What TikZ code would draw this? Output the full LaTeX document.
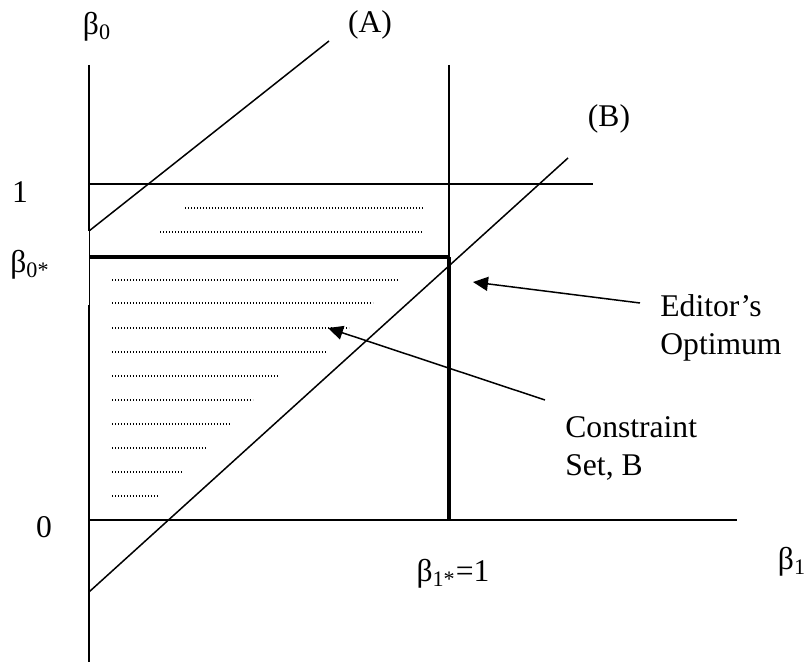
\documentclass[tikz,border=0pt]{standalone}
\usepackage{fontspec}
\setmainfont{Liberation Serif}
\usetikzlibrary{arrows.meta, positioning}

\begin{document}
\begin{tikzpicture}[x=0.5pt, y=-0.5pt,
    font=\fontsize{15.8}{19}\selectfont,
    >={Triangle[length=7.5pt,width=7pt]},
    axisline/.style={line width=1pt},
    thinline/.style={line width=0.75pt},
    boldline/.style={line width=2pt},
    dotrow/.style={line width=0.6pt, dash pattern=on 0.6pt off 0.9pt},
    lbl/.style={inner sep=0pt}]
  \useasboundingbox (0,0) rectangle (811,663);

  % Axes
  \coordinate (ytop) at (89,65);
  \coordinate (ybot) at (89,662);
  \coordinate (O)    at (89,520);
  \coordinate (xend) at (737,520);
  \draw[axisline] (ytop) -- (89,231);
  \draw[thinline, line width=0.5pt] (89,231) -- (89,305);
  \draw[axisline] (89,305) -- (ybot);
  \draw[thinline] (O) -- (xend);

  % Level 1 and optimum lines
  \coordinate (one) at (89,184);
  \coordinate (oneend) at (593,184);
  \draw[thinline] (one) -- (oneend);
  \coordinate (bstar) at (89,257);
  \coordinate (opt) at (449,257);
  \coordinate (vtop) at (449,65);
  \coordinate (vbot) at (449,520);
  \draw[boldline] (bstar) -- (opt);
  \draw[thinline, line width=1pt] (vtop) -- (opt);
  \draw[boldline] (opt) -- (vbot);

  % Lines (A) and (B)
  \coordinate (a0) at (89,231);
  \coordinate (a1) at (329,41);
  \coordinate (b0) at (89,592);
  \coordinate (b1) at (568,158);
  \draw[thinline] (a0) -- (a1);
  \draw[thinline] (b0) -- (b1);

  % Dotted rows
  \foreach \y/\xs/\xe in {208/185/423, 232/160/423} {
    \draw[dotrow] (\xs,\y) -- (\xe,\y);
  }
  \foreach \y/\xe in {280/398, 303/373, 328/349, 352/327, 376/278,
                      400/253, 424/230, 448/206, 472/182, 496/158} {
    \draw[dotrow] (112,\y) -- (\xe,\y);
  }

  % Labels
  \node[lbl] (b0lbl) at (97,27) {β\textsubscript{0}};
  \node[lbl] (albl) at (370,25) {(A)};
  \node[lbl] (blbl) at (609,119) {(B)};
  \node[lbl] (onelbl) at (20,192) {1};
  \node[lbl] (bstarlbl) at (30,265) {β\textsubscript{0*}};
  \node[lbl] (zerolbl) at (44,527) {0};
  \node[lbl] (b1starlbl) at (453,574) {β\textsubscript{1*}=1};
  \node[lbl] (b1lbl) at (792,562) {β\textsubscript{1}};
  \node[lbl, align=left, anchor=north west] (edlbl) at (660,294) {Editor’s\\Optimum};
  \node[lbl, align=left, anchor=north west] (cslbl) at (565,416) {Constraint\\Set, B};

  % Arrows
  \coordinate (edtail) at (640,303);
  \coordinate (edtip) at (473,282);
  \coordinate (cstail) at (545,400);
  \coordinate (cstip) at (328,328);
  \draw[->, thinline] (edtail) -- (edtip);
  \draw[->, thinline] (cstail) -- (cstip);
\end{tikzpicture}
\end{document}
